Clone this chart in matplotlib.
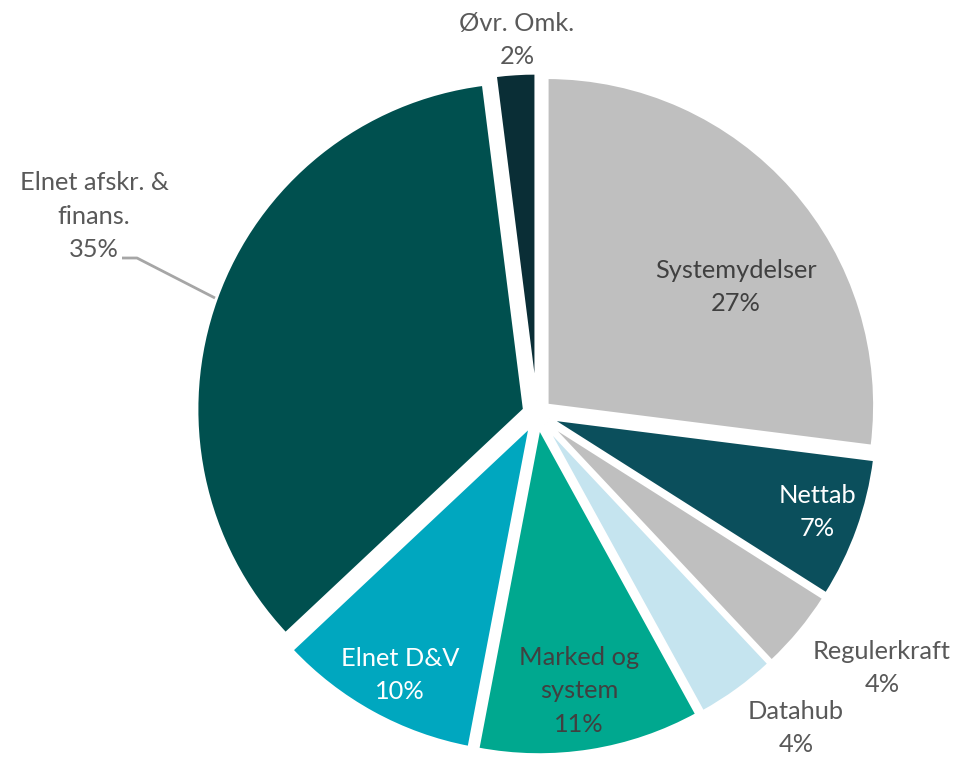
import matplotlib.pyplot as plt
import numpy as np

plt.rcParams['font.family'] = ['Lato', 'DejaVu Sans']

labels = ['Systemydelser', 'Nettab', 'Regulerkraft', 'Datahub',
          'Marked og\nsystem', 'Elnet D&V', 'Elnet afskr. &\nfinans.', 'Øvr. Omk.']
values = [27, 7, 4, 4, 11, 10, 35, 2]
colors = ['#BFBFBF', '#0B4F5C', '#BFBFBF', '#C5E4EF',
          '#00A88F', '#00A7BF', '#00504F', '#0A2E36']
text_colors = ['#404040', 'white', '#595959', '#595959',
               '#404040', 'white', '#595959', '#595959']
# label block centres in pixels (from the top-left corner)
label_px = [(736, 287), (817, 512), (882, 668), (796, 728),
            (579, 691), (400, 675), (94, 216), (517, 40)]

W, H = 963, 759
cx, cy, R = 537, 414, 328   # pixel centre / radius of the pie


def to_data(px, py):
    return (px - cx) / R, (cy - py) / R


fig = plt.figure(figsize=(W / 100, H / 100), dpi=100)
ax = fig.add_axes([0, 0, 1, 1])

ax.pie(values, colors=colors, startangle=90, counterclock=False,
       explode=[0.04] * len(values), radius=1.0,
       wedgeprops=dict(edgecolor='white', linewidth=2.5))

# pie resets limits, so set them afterwards
ax.set_aspect('auto')
ax.set_xlim(-cx / R, (W - cx) / R)
ax.set_ylim(-(H - cy) / R, cy / R)
ax.axis('off')

for lab, v, (px, py), tc in zip(labels, values, label_px, text_colors):
    x, y = to_data(px, py)
    ax.text(x, y, f'{lab}\n{v}%', ha='center', va='center', fontsize=18.3,
            color=tc, linespacing=1.55)

# leader line for the big slice
line = [to_data(122, 258), to_data(137, 258), to_data(215, 298)]
ax.plot([p[0] for p in line], [p[1] for p in line],
        color='#A6A6A6', lw=2, solid_capstyle='butt')

fig.savefig('out.png', dpi=100, facecolor='white')
